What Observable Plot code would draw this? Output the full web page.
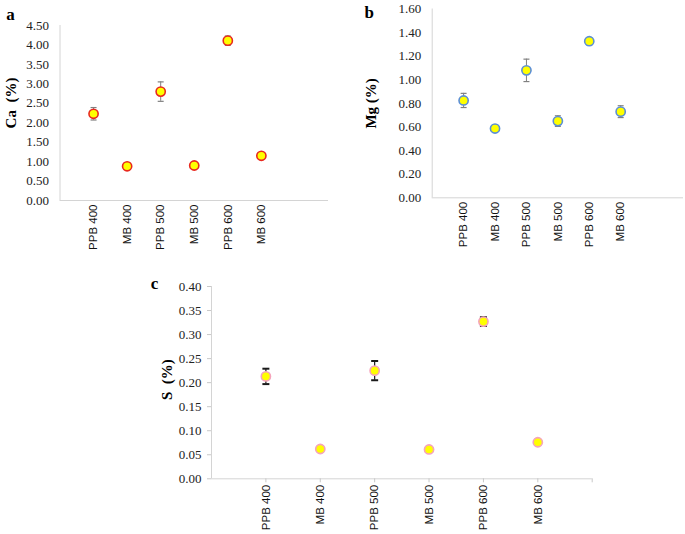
<!DOCTYPE html>
<html>
<head>
<meta charset="utf-8">
<script src="https://cdn.jsdelivr.net/npm/d3@7"></script>
<script src="https://cdn.jsdelivr.net/npm/@observablehq/plot@0.6"></script>
<style>
  body { margin: 0; background: #fff; }
  #wrap { position: relative; width: 685px; height: 534px; }
  #wrap > div { position: absolute; }
</style>
</head>
<body>
<div id="wrap">
  <div id="chart_a" style="left:0;top:0"></div>
  <div id="chart_b" style="left:340px;top:0"></div>
  <div id="chart_c" style="left:140px;top:270px"></div>
</div>
<script>
const categories = ["PPB 400", "MB 400", "PPB 500", "MB 500", "PPB 600", "MB 600"]

// Ca (%)
const ca    = [2.23, 0.88, 2.80, 0.90, 4.11, 1.15]
const caErr = [0.16, 0.03, 0.25, 0.03, 0.12, 0.04]
// Mg (%)
const mg    = [0.825, 0.587, 1.08, 0.65, 1.327, 0.73]
const mgErr = [0.06, 0.03, 0.095, 0.045, 0.03, 0.05]
// S (%)
const s     = [0.213, 0.062, 0.225, 0.061, 0.327, 0.076]
const sErr  = [0.016, 0.002, 0.02, 0.002, 0.009, 0.002]

const ticksA = [0, 0.5, 1, 1.5, 2, 2.5, 3, 3.5, 4, 4.5]
const ticksB = [0, 0.2, 0.4, 0.6, 0.8, 1.0, 1.2, 1.4, 1.6]
const ticksC = [0, 0.05, 0.1, 0.15, 0.2, 0.25, 0.3, 0.35, 0.4]

// horizontal line used as error bar cap
const cap = {draw(ctx, size) { const r = Math.sqrt(size / Math.PI); ctx.moveTo(-r, 0); ctx.lineTo(r, 0) }}

const rows = (vals, errs) => categories.map((c, i) => ({pos: i + 1, cat: c, v: vals[i], lo: vals[i] - errs[i], hi: vals[i] + errs[i]}))

function panel(o) {
  const data = rows(o.values, o.errors)
  return Plot.plot({
    width: o.width, height: o.height,
    marginLeft: o.ml, marginRight: o.mr, marginTop: o.mt, marginBottom: o.mb,
    style: {fontFamily: "'Liberation Serif', 'Times New Roman', serif", fontSize: "13px", color: "#222", background: "#fff"},
    x: {domain: [0, o.xmax], axis: null},
    y: {domain: o.ydom, axis: null},
    marks: [
      Plot.ruleY([0], {stroke: "#d4d4d4"}),
      Plot.ruleX([0], {stroke: "#d4d4d4"}),
      Plot.axisY({ticks: o.yticks, tickFormat: d => d.toFixed(2), tickSize: o.tickSize, tickPadding: o.ypad, stroke: "#c8c8c8", fill: "#222", label: null}),
      Plot.axisX({ticks: o.xticks, tickFormat: d => categories[d - 1] || "", tickSize: o.tickSize, tickPadding: o.xpad,
        tickRotate: -90, stroke: "#c8c8c8", fill: "#111", fontFamily: "'Liberation Sans', Arial, sans-serif", fontSize: 11.5, label: null}),
      Plot.ruleX(data, {x: "pos", y1: "lo", y2: "hi", stroke: o.errColor, strokeWidth: o.errWidth}),
      Plot.dot(data, {x: "pos", y: "hi", symbol: cap, r: o.capR, stroke: o.errColor, strokeWidth: o.capWidth}),
      Plot.dot(data, {x: "pos", y: "lo", symbol: cap, r: o.capR, stroke: o.errColor, strokeWidth: o.capWidth}),
      Plot.dot(data, {x: "pos", y: "v", r: 4.6, fill: "#ffff00", stroke: o.dotStroke, strokeWidth: 1.6}),
      Plot.text([o.letter], {frameAnchor: "top-left", dx: o.letterDx, dy: o.letterDy, text: d => d,
        textAnchor: "middle", lineAnchor: "middle", fontWeight: "bold", fontSize: 17, fill: "#000"}),
      Plot.text([o.label], {frameAnchor: "left", dx: o.labelDx, dy: o.labelDy, text: d => d, rotate: -90,
        textAnchor: "middle", lineAnchor: "middle", fontWeight: "bold", fontSize: 15, fill: "#000"})
    ]
  })
}

d3.select("#chart_a").append(() => panel({
  width: 340, height: 270, ml: 59.5, mr: 12, mt: 25, mb: 70,
  values: ca, errors: caErr, ydom: [0, 4.5], yticks: ticksA, xmax: 8, xticks: [1, 2, 3, 4, 5, 6],
  tickSize: 0, ypad: 11, xpad: 4,
  errColor: "#808080", errWidth: 1, capR: 3, capWidth: 1.2, dotStroke: "#e8281e",
  letter: "a", letterDx: -49.5, letterDy: -11,
  label: "Ca\u00a0 (%)", labelDx: -49, labelDy: -10
}))

d3.select("#chart_b").append(() => panel({
  width: 345, height: 270, ml: 91.7, mr: 2, mt: 8.5, mb: 72.7,
  values: mg, errors: mgErr, ydom: [0, 1.6], yticks: ticksB, xmax: 8, xticks: [1, 2, 3, 4, 5, 6],
  tickSize: 0, ypad: 11, xpad: 4,
  errColor: "#808080", errWidth: 1, capR: 3, capWidth: 1.2, dotStroke: "#5b8ed6",
  letter: "b", letterDx: -63, letterDy: 3.5,
  label: "Mg (%)", labelDx: -61, labelDy: 0
}))

d3.select("#chart_c").append(() => panel({
  width: 470, height: 264, ml: 71, mr: 18.3, mt: 16, mb: 55.7,
  values: s, errors: sErr, ydom: [0, 0.4], yticks: ticksC, xmax: 7, xticks: [1, 2, 3, 4, 5, 6, 7],
  tickSize: 4, ypad: 6, xpad: 2,
  errColor: "#1a1a1a", errWidth: 1.2, capR: 3.5, capWidth: 2, dotStroke: "#f5a3bb",
  letter: "c", letterDx: -57, letterDy: -2.5,
  label: "S\u00a0 (%)", labelDx: -44, labelDy: -3
}))
</script>
</body>
</html>
